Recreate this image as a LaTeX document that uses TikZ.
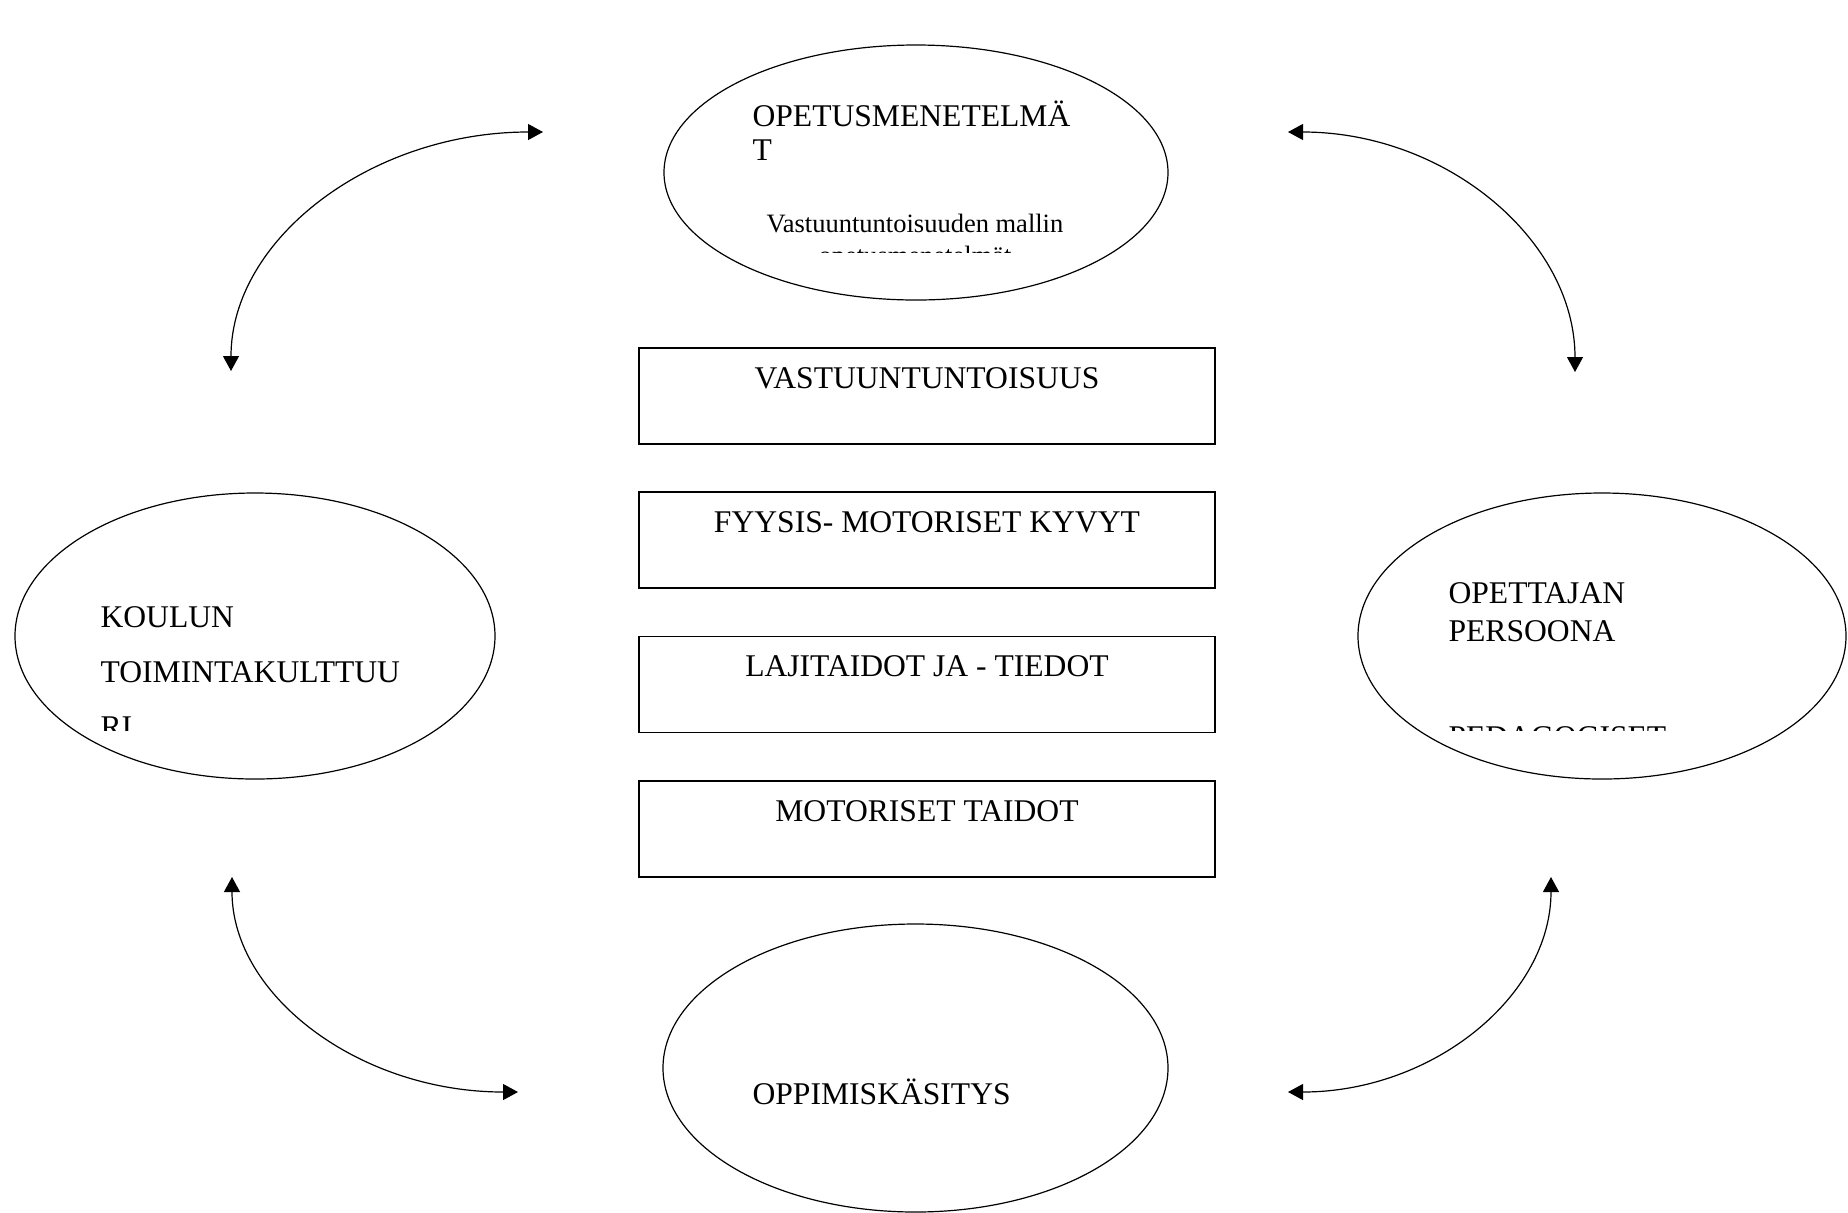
\documentclass[tikz,border=0pt]{standalone}
\usepackage{fontspec}
\setmainfont{Liberation Serif}
\usepackage{tikz}
\usetikzlibrary{shapes.geometric,arrows.meta,calc}

\begin{document}
\begin{tikzpicture}[x=0.5pt, y=-0.5pt, line width=0.6pt,
                    >={Triangle[length=7.5pt,width=8pt]},
                    oval node/.style={ellipse,draw,inner sep=0pt},
                    box node/.style={rectangle,draw,inner sep=0pt,minimum width=288pt,minimum height=48pt},
                    big text/.style={inner sep=0pt,anchor=base west,font=\fontsize{15.8}{17.5}\selectfont},
                    box text/.style={inner sep=0pt,anchor=base,font=\fontsize{15.8}{17.5}\selectfont},
                    small text/.style={inner sep=0pt,anchor=base,font=\fontsize{13.25}{15}\selectfont}]
  \useasboundingbox (0,0) rectangle (1848,1212);
  \node[oval node, minimum width=252pt, minimum height=127.5pt] (menetelmat) at (916,172.5) {};
  \node[oval node, minimum width=240pt, minimum height=143pt] (koulu) at (255,636) {};
  \node[oval node, minimum width=244pt, minimum height=143pt] (opettaja) at (1602,636) {};
  \node[oval node, minimum width=252.5pt, minimum height=144pt] (oppiminen) at (915.5,1068) {};

  \node[big text] (menetelmat1) at (752,126) {OPETUSMENETELMÄ};
  \node[big text] (menetelmat2) at (752,160) {T};
  \node[small text] (menetelmat3) at (915,232) {Vastuuntuntoisuuden mallin};
  \begin{scope}
    \clip (700,236) rectangle (1130,252);
    \node[small text] (menetelmat4) at (915,264) {opetusmenetelmät};
  \end{scope}

  \node[big text] (koulu1) at (100,627) {KOULUN};
  \node[big text] (koulu2) at (100,682) {TOIMINTAKULTTUU};
  \begin{scope}
    \clip (60,690) rectangle (450,730);
    \node[big text] (koulu3) at (100,737) {RI};
  \end{scope}

  \node[big text] (opettaja1) at (1448,603) {OPETTAJAN};
  \node[big text] (opettaja2) at (1448,641) {PERSOONA};
  \begin{scope}
    \clip (1400,700) rectangle (1840,730);
    \node[big text] (opettaja3) at (1448,747) {PEDAGOGISET};
  \end{scope}

  \node[big text] (oppiminen1) at (752,1104) {OPPIMISKÄSITYS};

  \node[box node] (vastuu) at (927,396) {};
  \node[box node] (kyvyt) at (927,540) {};
  \node[box node] (lajit) at (927,684.5) {};
  \node[box node] (taidot) at (927,829) {};
  \node[box text] (vastuu1) at ([yshift=-20.5pt]vastuu.north) {VASTUUNTUNTOISUUS};
  \node[box text] (kyvyt1) at ([yshift=-20.5pt]kyvyt.north) {FYYSIS- MOTORISET KYVYT};
  \node[box text] (lajit1) at ([yshift=-20.5pt]lajit.north) {LAJITAIDOT JA - TIEDOT};
  \node[box text] (taidot1) at ([yshift=-20.5pt]taidot.north) {MOTORISET TAIDOT};

  \coordinate (tl1) at (231,371);  \coordinate (tl2) at (543,132);
  \coordinate (tr1) at (1288,132); \coordinate (tr2) at (1575,372);
  \coordinate (bl1) at (232,877);  \coordinate (bl2) at (518,1092);
  \coordinate (br1) at (1551,877); \coordinate (br2) at (1288,1092);
  \draw[<->] (tl1) .. controls ($(tl1)+(0,-132)$) and ($(tl2)+(-172,0)$) .. (tl2);
  \draw[<->] (tr1) .. controls ($(tr1)+(158,0)$) and ($(tr2)+(0,-132)$) .. (tr2);
  \draw[<->] (bl1) .. controls ($(bl1)+(0,119)$) and ($(bl2)+(-158,0)$) .. (bl2);
  \draw[<->] (br1) .. controls ($(br1)+(0,119)$) and ($(br2)+(145,0)$) .. (br2);
\end{tikzpicture}
\end{document}
